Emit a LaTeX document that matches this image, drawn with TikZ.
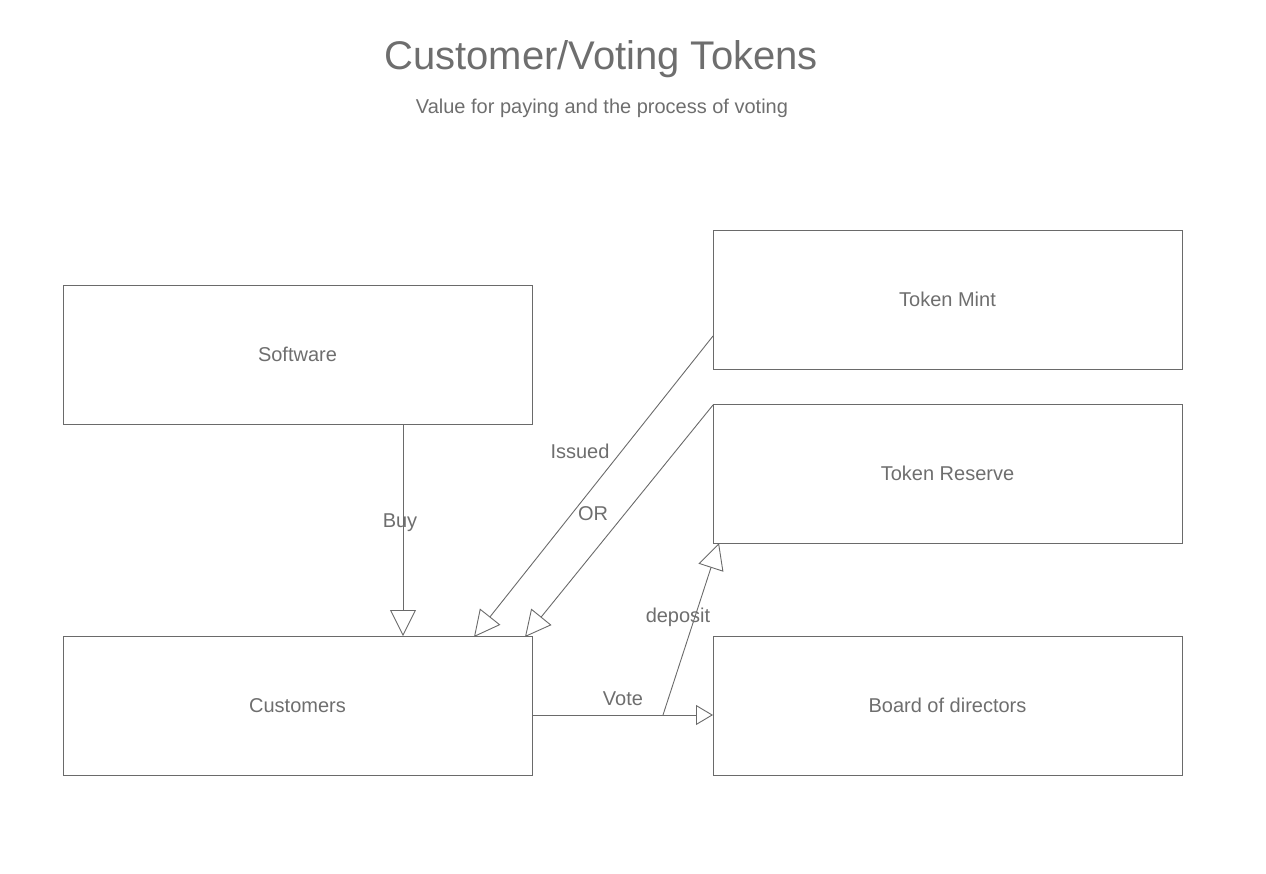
\documentclass[tikz,border=0pt]{standalone}
\usepackage{fontspec}
\setmainfont{Liberation Sans}
\usetikzlibrary{arrows.meta,calc,positioning}
\definecolor{inkgray}{HTML}{6E6E6E}
\definecolor{linegray}{HTML}{6A6A6A}

\begin{document}
\begin{tikzpicture}[x=0.5pt, y=-0.5pt,
    every node/.append style={font=\fontsize{10pt}{12pt}\selectfont, text=inkgray},
    block/.style={draw=linegray, line width=0.5pt, minimum width=234.5pt, minimum height=69.5pt, inner sep=0pt, text height=7.2pt, text depth=-2.5pt},
    flow/.style={draw=linegray, line width=0.45pt, -{Triangle[open, length=13pt, width=13pt]}},
    smallflow/.style={draw=linegray, line width=0.45pt, -{Triangle[open, length=8.5pt, width=10pt]}}]
    \useasboundingbox (0,0) rectangle (1266,874);
    % titles
    \node (title) at (601,59) {\fontsize{20pt}{24pt}\selectfont Customer/Voting Tokens};
    \node (subtitle) at (602,108) {Value for paying and the process of voting};
    % boxes
    \node[block] (software) at (297.5,354.5) {Software};
    \node[block] (customers) at (297.5,705.5) {Customers};
    \node[block] (mint) at (947.5,299.5) {Token Mint};
    \node[block] (reserve) at (947.5,473.5) {Token Reserve};
    \node[block] (board) at (947.5,705.5) {Board of directors};
    % connector ends
    \coordinate (buyS) at (403,424);
    \coordinate (buyE) at (403,636);
    \coordinate (issS) at (713,336);
    \coordinate (issE) at (474,637);
    \coordinate (orS) at (713,405);
    \coordinate (orE) at (525,637);
    \coordinate (voteS) at (532,715);
    \coordinate (voteE) at (713,715);
    \coordinate (depS) at (663,715);
    \coordinate (depE) at (719,543);
    % connectors
    \draw[flow] (buyS) -- (buyE);
    \draw[flow] (issS) -- (issE);
    \draw[flow] (orS) -- (orE);
    \draw[smallflow] (voteS) -- (voteE);
    \draw[flow] (depS) -- (depE);
    % labels
    \node (buy) at (400,523) {Buy};
    \node (issued) at (580,451) {Issued};
    \node (or) at (593,514) {OR};
    \node (vote) at (623,699) {Vote};
    \node (deposit) at (678,617) {deposit};
\end{tikzpicture}
\end{document}
